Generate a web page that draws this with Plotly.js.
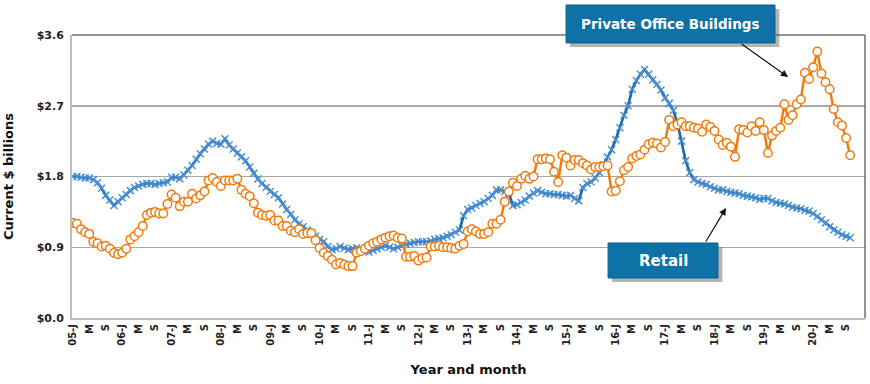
<!DOCTYPE html>
<html>
<head>
<meta charset="utf-8">
<script src="https://cdn.plot.ly/plotly-3.0.1.min.js"></script>
<style>html,body{margin:0;padding:0;background:#fff;}#chart{width:870px;height:384px;}</style>
</head>
<body>
<div id="chart"></div>
<script>
// Monthly data, Jan 2005 .. Oct 2020 ($ billions)
var years = ['05','06','07','08','09','10','11','12','13','14','15','16','17','18','19','20'];
var tickMonthLetters = ['J','M','S'];   // Jan, May, Sep

var officeValues = [
 1.21,1.20,1.13,1.09,1.07,0.97,0.95,0.91,0.92,0.88,0.83,0.81,
 0.83,0.88,1.00,1.04,1.09,1.17,1.31,1.34,1.35,1.33,1.33,1.45,
 1.57,1.53,1.42,1.48,1.48,1.58,1.52,1.56,1.61,1.75,1.78,1.73,
 1.68,1.75,1.75,1.75,1.77,1.63,1.58,1.55,1.46,1.34,1.31,1.30,
 1.31,1.24,1.24,1.17,1.17,1.11,1.09,1.13,1.07,1.08,1.08,0.99,
 0.89,0.83,0.79,0.74,0.68,0.70,0.68,0.66,0.66,0.83,0.85,0.88,
 0.92,0.95,0.97,1.00,1.02,1.04,1.05,1.02,1.01,0.78,0.78,0.79,
 0.73,0.76,0.77,0.91,0.91,0.92,0.90,0.90,0.89,0.88,0.92,0.94,
 1.10,1.13,1.10,1.07,1.07,1.09,1.20,1.20,1.25,1.48,1.61,1.72,
 1.68,1.77,1.81,1.77,1.80,2.02,2.02,2.03,2.02,1.86,1.73,2.07,
 2.04,1.94,2.01,2.01,1.97,1.94,1.89,1.92,1.92,1.93,1.94,1.61,
 1.62,1.74,1.88,1.92,2.03,2.06,2.08,2.14,2.21,2.23,2.22,2.17,
 2.24,2.52,2.44,2.46,2.49,2.44,2.44,2.42,2.41,2.37,2.46,2.43,
 2.38,2.27,2.20,2.23,2.18,2.05,2.40,2.39,2.36,2.44,2.38,2.49,
 2.39,2.10,2.32,2.38,2.42,2.72,2.52,2.58,2.72,2.78,3.12,3.04,
 3.19,3.39,3.11,3.00,2.91,2.66,2.49,2.45,2.29,2.07
];

var retailValues = [
 1.80,1.80,1.79,1.78,1.78,1.76,1.72,1.65,1.56,1.50,1.43,1.48,
 1.53,1.57,1.62,1.66,1.68,1.70,1.71,1.71,1.70,1.71,1.72,1.73,
 1.79,1.79,1.77,1.82,1.88,1.94,2.02,2.09,2.15,2.21,2.25,2.22,
 2.21,2.28,2.20,2.15,2.10,2.05,2.00,1.92,1.84,1.77,1.71,1.66,
 1.61,1.57,1.53,1.45,1.38,1.32,1.25,1.20,1.16,1.12,1.08,1.04,
 1.00,0.97,0.91,0.87,0.88,0.91,0.89,0.87,0.88,0.89,0.87,0.85,
 0.84,0.86,0.88,0.90,0.92,0.90,0.88,0.90,0.92,0.94,0.95,0.96,
 0.97,0.97,0.97,0.98,1.00,1.01,1.02,1.04,1.06,1.09,1.12,1.30,
 1.38,1.40,1.43,1.46,1.48,1.52,1.56,1.63,1.63,1.61,1.59,1.43,
 1.44,1.47,1.50,1.55,1.59,1.62,1.60,1.58,1.58,1.57,1.57,1.56,
 1.55,1.56,1.52,1.49,1.66,1.71,1.73,1.78,1.85,1.95,2.05,2.14,
 2.27,2.42,2.58,2.70,2.91,3.02,3.10,3.16,3.10,3.03,2.97,2.90,
 2.80,2.73,2.64,2.48,2.25,2.00,1.85,1.76,1.73,1.71,1.70,1.67,
 1.65,1.63,1.63,1.61,1.60,1.59,1.58,1.56,1.55,1.54,1.53,1.51,
 1.52,1.52,1.49,1.47,1.46,1.45,1.43,1.41,1.40,1.39,1.37,1.36,
 1.33,1.29,1.25,1.21,1.16,1.12,1.09,1.06,1.04,1.02
];

var yTickValues = [0, 0.9, 1.8, 2.7, 3.6];
var yTickText = ['$0.0', '$0.9', '$1.8', '$2.7', '$3.6'];

// month index positions
var monthIdx = officeValues.map(function(_, i){ return i; });

// tick labels every 4 months: YY-J, M, S
var tickVals = [], tickText = [];
years.forEach(function(yy, y){
  tickMonthLetters.forEach(function(letter, k){
    tickVals.push(y*12 + k*4);
    tickText.push(k === 0 ? yy + '-' + letter : letter);
  });
});

var FONT = 'DejaVu Sans, sans-serif';
var boxBlue = '#0f72a6';

var traces = [
  {
    x: monthIdx, y: retailValues, name: 'Retail', type: 'scatter', mode: 'lines+markers',
    line: {color: '#1c6aa8', width: 2.7},
    marker: {symbol: 'x-thin-open', size: 7, color: '#4a90d2', line: {color: '#4a90d2', width: 1.5}},
    showlegend: false, hoverinfo: 'x+y'
  },
  {
    x: monthIdx, y: officeValues, name: 'Private Office Buildings', type: 'scatter', mode: 'lines+markers',
    line: {color: '#f07b0e', width: 2.5},
    marker: {symbol: 'circle', size: 8.5, color: '#ffffff', line: {color: '#f07b0e', width: 1.5}},
    showlegend: false, hoverinfo: 'x+y'
  }
];

var layout = {
  width: 870, height: 384,
  margin: {l: 72, r: 5, t: 35, b: 66},
  paper_bgcolor: '#ffffff', plot_bgcolor: '#ffffff',
  font: {family: FONT, color: '#222'},
  xaxis: {
    range: [-0.2, 192.6],
    tickmode: 'array', tickvals: tickVals, ticktext: tickText,
    tickangle: -90,
    tickfont: {family: FONT, size: 10, weight: 'bold', color: '#222'},
    showgrid: false, zeroline: false,
    showline: true, linecolor: '#bdbdbd', linewidth: 2,
    ticks: '',
    title: {text: 'Year and month', font: {family: FONT, size: 13, weight: 'bold', color: '#111'}, standoff: 20}
  },
  yaxis: {
    range: [0, 3.6],
    tickmode: 'array', tickvals: yTickValues, ticktext: yTickText,
    tickfont: {family: FONT, size: 11, weight: 'bold', color: '#222'},
    ticklabelstandoff: 4,
    showgrid: true, gridcolor: '#a8a8a8', gridwidth: 1.5,
    zeroline: false,
    showline: true, linecolor: '#bdbdbd', linewidth: 2,
    ticks: '',
    title: {text: 'Current $ billions', font: {family: FONT, size: 13, weight: 'bold', color: '#111'}, standoff: 20}
  },
  shapes: [
    // top and right frame
    {type: 'line', xref: 'paper', yref: 'paper', x0: 0, x1: 1, y0: 1, y1: 1, line: {color: '#6e6e6e', width: 1.5}},
    {type: 'line', xref: 'paper', yref: 'paper', x0: 1, x1: 1, y0: 0, y1: 1, line: {color: '#6e6e6e', width: 1.5}},
    // label box shadows
    {type: 'rect', xref: 'paper', yref: 'paper', x0: 0.628, x1: 0.892, y0: 0.958, y1: 1.092, line: {width: 0}, fillcolor: 'rgba(90,90,90,0.45)', layer: 'above'},
    {type: 'rect', xref: 'paper', yref: 'paper', x0: 0.681, x1: 0.820, y0: 0.127, y1: 0.251, line: {width: 0}, fillcolor: 'rgba(90,90,90,0.45)', layer: 'above'},
    // label boxes
    {type: 'rect', xref: 'paper', yref: 'paper', x0: 0.623, x1: 0.8865, y0: 0.972, y1: 1.106, line: {color: '#0b5f8c', width: 1}, fillcolor: boxBlue, layer: 'above'},
    {type: 'rect', xref: 'paper', yref: 'paper', x0: 0.676, x1: 0.8146, y0: 0.1413, y1: 0.265, line: {color: '#0b5f8c', width: 1}, fillcolor: boxBlue, layer: 'above'}
  ],
  annotations: [
    {xref: 'paper', yref: 'paper', x: 0.7548, y: 1.039, text: 'Private Office Buildings', showarrow: false,
     font: {family: FONT, size: 13.5, weight: 'bold', color: '#ffffff'}, xanchor: 'center', yanchor: 'middle'},
    {xref: 'paper', yref: 'paper', x: 0.7453, y: 0.2031, text: 'Retail', showarrow: false,
     font: {family: FONT, size: 15, weight: 'bold', color: '#ffffff'}, xanchor: 'center', yanchor: 'middle'},
    {xref: 'paper', yref: 'paper', x: 0.903, y: 0.8516, text: '', showarrow: true, ax: -48, ay: -34,
     arrowhead: 2, arrowsize: 1.2, arrowwidth: 1.2, arrowcolor: '#111'},
    {xref: 'paper', yref: 'paper', x: 0.8247, y: 0.3887, text: '', showarrow: true, ax: -21, ay: 35,
     arrowhead: 2, arrowsize: 1.2, arrowwidth: 1.2, arrowcolor: '#111'}
  ]
};

Plotly.newPlot('chart', traces, layout, {displayModeBar: false, staticPlot: true});
</script>
</body>
</html>
